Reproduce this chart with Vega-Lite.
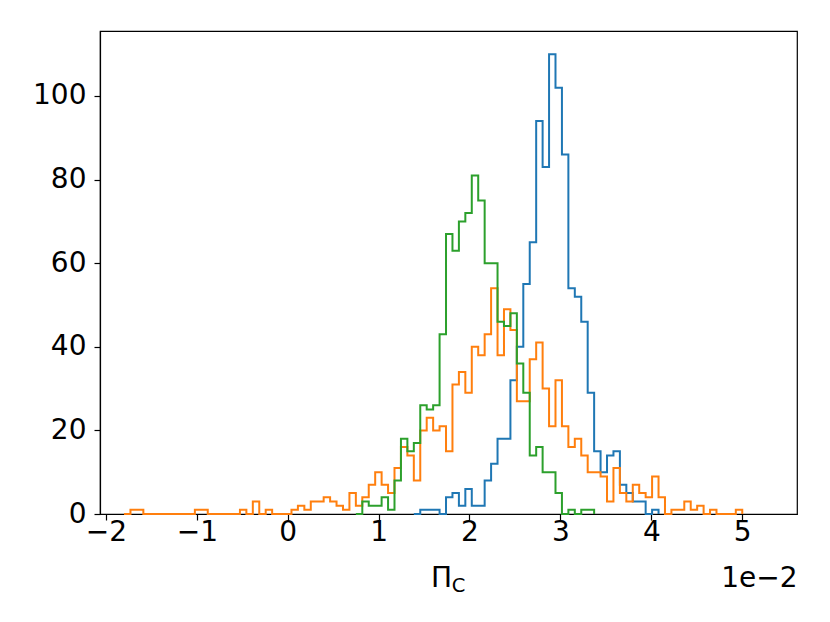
{
  "$schema": "https://vega.github.io/schema/vega-lite/v6.json",
  "width": 697,
  "height": 483,
  "autosize": {"type": "none"},
  "padding": {"left": 100, "top": 31, "right": 33, "bottom": 108},
  "background": "white",
  "config": {
    "view": {"stroke": "black", "strokeWidth": 1.2},
    "font": "DejaVu Sans",
    "axis": {
      "grid": false,
      "labelFont": "DejaVu Sans",
      "labelFontSize": 28,
      "labelColor": "black",
      "tickColor": "black",
      "tickWidth": 1.2,
      "tickSize": 6,
      "domainColor": "black",
      "domainWidth": 1.2,
      "titleFont": "DejaVu Sans",
      "titleFontWeight": "normal",
      "titleColor": "black"
    }
  },
  "datasets": {
    "orange": [
      {"x": -1.8006, "n": 0}, {"x": -1.7298, "n": 1}, {"x": -1.6589, "n": 1}, {"x": -1.5881, "n": 0},
      {"x": -1.5173, "n": 0}, {"x": -1.4464, "n": 0}, {"x": -1.3756, "n": 0}, {"x": -1.3047, "n": 0},
      {"x": -1.2339, "n": 0}, {"x": -1.163, "n": 0}, {"x": -1.0922, "n": 0}, {"x": -1.0213, "n": 1},
      {"x": -0.9505, "n": 1}, {"x": -0.8796, "n": 0}, {"x": -0.8088, "n": 0}, {"x": -0.7379, "n": 0},
      {"x": -0.6671, "n": 0}, {"x": -0.5962, "n": 0}, {"x": -0.5254, "n": 1}, {"x": -0.4546, "n": 0},
      {"x": -0.3837, "n": 3}, {"x": -0.3129, "n": 0}, {"x": -0.242, "n": 1}, {"x": -0.1712, "n": 0},
      {"x": -0.1003, "n": 0}, {"x": -0.0295, "n": 0}, {"x": 0.0414, "n": 1}, {"x": 0.1122, "n": 2},
      {"x": 0.1831, "n": 1}, {"x": 0.2539, "n": 3}, {"x": 0.3248, "n": 3}, {"x": 0.3956, "n": 4},
      {"x": 0.4665, "n": 3}, {"x": 0.5373, "n": 2}, {"x": 0.6082, "n": 1}, {"x": 0.679, "n": 5},
      {"x": 0.7498, "n": 2}, {"x": 0.8207, "n": 4}, {"x": 0.8915, "n": 7}, {"x": 0.9624, "n": 10},
      {"x": 1.0332, "n": 7}, {"x": 1.1041, "n": 5}, {"x": 1.1749, "n": 11}, {"x": 1.2458, "n": 16},
      {"x": 1.3166, "n": 14}, {"x": 1.3875, "n": 8}, {"x": 1.4583, "n": 20}, {"x": 1.5292, "n": 23},
      {"x": 1.6, "n": 20}, {"x": 1.6709, "n": 21}, {"x": 1.7417, "n": 15}, {"x": 1.8126, "n": 31},
      {"x": 1.8834, "n": 34}, {"x": 1.9542, "n": 29}, {"x": 2.0251, "n": 40}, {"x": 2.0959, "n": 38},
      {"x": 2.1668, "n": 43}, {"x": 2.2376, "n": 54}, {"x": 2.3085, "n": 38}, {"x": 2.3793, "n": 49},
      {"x": 2.4502, "n": 44}, {"x": 2.521, "n": 27}, {"x": 2.5919, "n": 27}, {"x": 2.6627, "n": 37},
      {"x": 2.7336, "n": 41}, {"x": 2.8044, "n": 30}, {"x": 2.8753, "n": 21}, {"x": 2.9461, "n": 32},
      {"x": 3.017, "n": 21}, {"x": 3.0878, "n": 16}, {"x": 3.1586, "n": 18}, {"x": 3.2295, "n": 14},
      {"x": 3.3003, "n": 10}, {"x": 3.3712, "n": 10}, {"x": 3.442, "n": 9}, {"x": 3.5129, "n": 3},
      {"x": 3.5837, "n": 11}, {"x": 3.6546, "n": 5}, {"x": 3.7254, "n": 3}, {"x": 3.7963, "n": 7},
      {"x": 3.8671, "n": 5}, {"x": 3.938, "n": 4}, {"x": 4.0088, "n": 9}, {"x": 4.0797, "n": 4},
      {"x": 4.1505, "n": 0}, {"x": 4.2214, "n": 1}, {"x": 4.2922, "n": 1}, {"x": 4.363, "n": 3},
      {"x": 4.4339, "n": 1}, {"x": 4.5047, "n": 2}, {"x": 4.5756, "n": 0}, {"x": 4.6464, "n": 1},
      {"x": 4.7173, "n": 0}, {"x": 4.7881, "n": 0}, {"x": 4.859, "n": 0}, {"x": 4.9298, "n": 1},
      {"x": 5.0007, "n": 0}
    ],
    "blue": [
      {"x": 1.3875, "n": 0}, {"x": 1.4583, "n": 1}, {"x": 1.5292, "n": 1}, {"x": 1.6, "n": 1},
      {"x": 1.6709, "n": 0}, {"x": 1.7417, "n": 4}, {"x": 1.8126, "n": 5}, {"x": 1.8834, "n": 2},
      {"x": 1.9542, "n": 6}, {"x": 2.0251, "n": 2}, {"x": 2.0959, "n": 2}, {"x": 2.1668, "n": 8},
      {"x": 2.2376, "n": 12}, {"x": 2.3085, "n": 18}, {"x": 2.3793, "n": 18}, {"x": 2.4502, "n": 32},
      {"x": 2.521, "n": 40}, {"x": 2.5919, "n": 55}, {"x": 2.6627, "n": 65}, {"x": 2.7336, "n": 94},
      {"x": 2.8044, "n": 83}, {"x": 2.8753, "n": 110}, {"x": 2.9461, "n": 102}, {"x": 3.017, "n": 86},
      {"x": 3.0878, "n": 54}, {"x": 3.1586, "n": 52}, {"x": 3.2295, "n": 46}, {"x": 3.3003, "n": 29},
      {"x": 3.3712, "n": 15}, {"x": 3.442, "n": 10}, {"x": 3.5129, "n": 14}, {"x": 3.5837, "n": 15},
      {"x": 3.6546, "n": 7}, {"x": 3.7254, "n": 5}, {"x": 3.7963, "n": 3}, {"x": 3.8671, "n": 3},
      {"x": 3.938, "n": 0}, {"x": 4.0088, "n": 1}, {"x": 4.0797, "n": 0}
    ],
    "green": [
      {"x": 0.7498, "n": 0}, {"x": 0.8207, "n": 3}, {"x": 0.8915, "n": 2}, {"x": 0.9624, "n": 2},
      {"x": 1.0332, "n": 4}, {"x": 1.1041, "n": 1}, {"x": 1.1749, "n": 8}, {"x": 1.2458, "n": 18},
      {"x": 1.3166, "n": 15}, {"x": 1.3875, "n": 17}, {"x": 1.4583, "n": 26}, {"x": 1.5292, "n": 25},
      {"x": 1.6, "n": 26}, {"x": 1.6709, "n": 43}, {"x": 1.7417, "n": 67}, {"x": 1.8126, "n": 63},
      {"x": 1.8834, "n": 70}, {"x": 1.9542, "n": 72}, {"x": 2.0251, "n": 81}, {"x": 2.0959, "n": 75},
      {"x": 2.1668, "n": 60}, {"x": 2.2376, "n": 60}, {"x": 2.3085, "n": 46}, {"x": 2.3793, "n": 45},
      {"x": 2.4502, "n": 48}, {"x": 2.521, "n": 36}, {"x": 2.5919, "n": 29}, {"x": 2.6627, "n": 14},
      {"x": 2.7336, "n": 16}, {"x": 2.8044, "n": 10}, {"x": 2.8753, "n": 10}, {"x": 2.9461, "n": 5},
      {"x": 3.017, "n": 0}, {"x": 3.0878, "n": 1}, {"x": 3.1586, "n": 0}, {"x": 3.2295, "n": 1},
      {"x": 3.3003, "n": 1}, {"x": 3.3712, "n": 0}
    ]
  },
  "resolve": {"axis": {"x": "independent"}},
  "layer": [
    {
      "data": {"name": "blue"},
      "mark": {"type": "line", "interpolate": "step-after", "color": "#1f77b4", "strokeWidth": 2},
      "encoding": {
        "x": {"field": "x", "type": "quantitative",
              "scale": {"domain": [-2.065, 5.603], "nice": false, "zero": false},
              "axis": {"values": [-2, -1, 0, 1, 2, 3, 4, 5], "labelPadding": -2, "orient": "bottom",
                       "title": "Π", "titleFontSize": 28, "titleX": 341, "titleY": 72,
                       "titleAlign": "center", "titleBaseline": "alphabetic", "titleAngle": 0}},
        "y": {"field": "n", "type": "quantitative",
              "scale": {"domain": [0, 115.55], "nice": false, "zero": true},
              "axis": {"values": [0, 20, 40, 60, 80, 100], "labelPadding": 8, "title": null}}
      }
    },
    {
      "data": {"name": "orange"},
      "mark": {"type": "line", "interpolate": "step-after", "color": "#ff7f0e", "strokeWidth": 2},
      "encoding": {
        "x": {"field": "x", "type": "quantitative",
              "scale": {"domain": [-2.065, 5.603], "nice": false, "zero": false}, "axis": null},
        "y": {"field": "n", "type": "quantitative",
              "scale": {"domain": [0, 115.55], "nice": false, "zero": true},
              "axis": {"values": [0, 20, 40, 60, 80, 100], "labelPadding": 8, "title": null}}
      }
    },
    {
      "data": {"name": "green"},
      "mark": {"type": "line", "interpolate": "step-after", "color": "#2ca02c", "strokeWidth": 2},
      "encoding": {
        "x": {"field": "x", "type": "quantitative",
              "scale": {"domain": [-2.065, 5.603], "nice": false, "zero": false}, "axis": null},
        "y": {"field": "n", "type": "quantitative",
              "scale": {"domain": [0, 115.55], "nice": false, "zero": true},
              "axis": {"values": [0, 20, 40, 60, 80, 100], "labelPadding": 8, "title": null}}
      }
    },
    {
      "data": {"name": "green"},
      "mark": {"type": "point", "opacity": 0},
      "encoding": {
        "x": {"field": "x", "type": "quantitative",
              "scale": {"domain": [-2.065, 5.603], "nice": false, "zero": false},
              "axis": {"orient": "bottom", "labels": false, "ticks": false, "domain": false,
                       "title": "C", "titleFontSize": 19.5, "titleX": 358, "titleY": 77,
                       "titleAlign": "center", "titleBaseline": "alphabetic", "titleAngle": 0}}
      }
    },
    {
      "data": {"name": "green"},
      "mark": {"type": "point", "opacity": 0},
      "encoding": {
        "x": {"field": "x", "type": "quantitative",
              "scale": {"domain": [-2.065, 5.603], "nice": false, "zero": false},
              "axis": {"orient": "bottom", "labels": false, "ticks": false, "domain": false,
                       "title": "1e−2", "titleFontSize": 28, "titleX": 697, "titleY": 72,
                       "titleAlign": "right", "titleBaseline": "alphabetic", "titleAngle": 0}}
      }
    }
  ]
}
